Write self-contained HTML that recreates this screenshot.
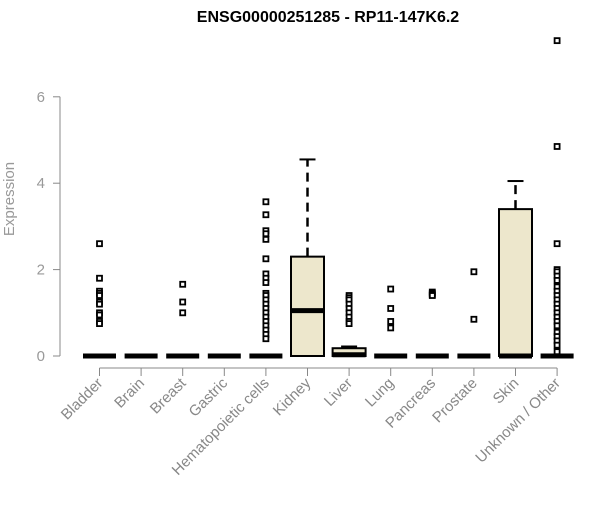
<!DOCTYPE html>
<html><head><meta charset="utf-8"><style>
body{margin:0;background:#fff;width:600px;height:500px;overflow:hidden}
svg text{font-family:"Liberation Sans",Arial,sans-serif}
</style></head><body>
<svg id="chart" width="600" height="500" xmlns="http://www.w3.org/2000/svg">
<text x="328" y="22" text-anchor="middle" font-size="16" font-weight="bold">ENSG00000251285 - RP11-147K6.2</text>
<text transform="translate(14,199) rotate(-90)" text-anchor="middle" font-size="15" fill="#999">Expression</text>
<g id="g"></g>
</svg>
<script>
const categories=["Bladder","Brain","Breast","Gastric","Hematopoietic cells","Kidney","Liver","Lung","Pancreas","Prostate","Skin","Unknown / Other"];
const q1=[0,0,0,0,0,0,0,0,0,0,0,0];
const medians=[0,0,0,0,0,1.05,0.03,0,0,0,0,0];
const q3=[0,0,0,0,0,2.3,0.18,0,0,0,3.4,0];
const whiskerHigh=[0,0,0,0,0,4.55,0.22,0,0,0,4.05,0];
const outliers=[
[2.6,1.8,1.5,1.45,1.4,1.25,1.2,1.0,0.95,0.8,0.75],
[],
[1.66,1.25,1.0],
[],
[3.57,3.27,2.9,2.83,2.7,2.25,1.9,1.8,1.7,1.45,1.4,1.3,1.2,1.1,1.0,0.9,0.8,0.7,0.6,0.5,0.4],
[],
[1.4,1.35,1.3,1.2,1.1,1.0,0.9,0.8,0.75],
[1.55,1.1,0.8,0.65],
[1.48,1.45,1.42,1.4],
[1.95,0.85],
[],
[7.3,4.85,2.6,2.0,1.95,1.85,1.75,1.6,1.5,1.4,1.3,1.2,1.1,1.0,0.9,0.8,0.7,0.55,0.45,0.35,0.25,0.1]
];
const yTicks=[0,2,4,6];
const NS="http://www.w3.org/2000/svg";
const g=document.getElementById("g");
const xS=i=>99.5+41.6*i;
const yS=v=>356-43.2*v;
function mk(t,a){const e=document.createElementNS(NS,t);for(const k in a)e.setAttribute(k,a[k]);g.appendChild(e);return e;}
let e;
e=mk("line",{x1:60,x2:60,y1:yS(0),y2:yS(6),stroke:"#888"});


yTicks.forEach(t=>{
 e=mk("line",{x1:53,x2:60,y1:yS(t),y2:yS(t),stroke:"#888"});
 
 
 e=mk("text",{x:45,y:yS(t)+5,"text-anchor":"end","font-size":"15",fill:"#999"});
 e.textContent=t;
 
 
});
e=mk("line",{x1:xS(0),x2:xS(11),y1:368,y2:368,stroke:"#888"});


const hw=16.5;
categories.forEach((c,i)=>{
 const x=xS(i);
 e=mk("line",{x1:x,x2:x,y1:368,y2:376,stroke:"#888"});
 
 
 e=mk("text",{transform:`translate(${x+4},${384}) rotate(-45)`,"text-anchor":"end","font-size":"15",fill:"#888"});
 e.textContent=c;
 
 
 if(whiskerHigh[i]>q3[i]){
  e=mk("line",{x1:x,x2:x,y1:yS(q3[i]),y2:yS(whiskerHigh[i]),stroke:"#000","stroke-width":2.5,"stroke-dasharray":"9,6"});
  
  
  e=mk("line",{x1:x-8,x2:x+8,y1:yS(whiskerHigh[i]),y2:yS(whiskerHigh[i]),stroke:"#000","stroke-width":2});
  
  
 }
 const h=yS(q1[i])-yS(q3[i]);
 if(h>0){
  e=mk("rect",{x:x-hw,y:yS(q3[i]),width:hw*2,height:h,fill:"#ede7cc",stroke:"#000","stroke-width":2});
  
  
 }
 e=mk("line",{x1:x-hw,x2:x+hw,y1:yS(medians[i]),y2:yS(medians[i]),stroke:"#000","stroke-width":5});
 
 
 outliers[i].forEach(v=>{
  e=mk("rect",{x:x-2.5,y:yS(v)-2.5,width:5,height:5,fill:"#fff",stroke:"#000","stroke-width":1.8});
  
  
 });
});
</script>
</body></html>
